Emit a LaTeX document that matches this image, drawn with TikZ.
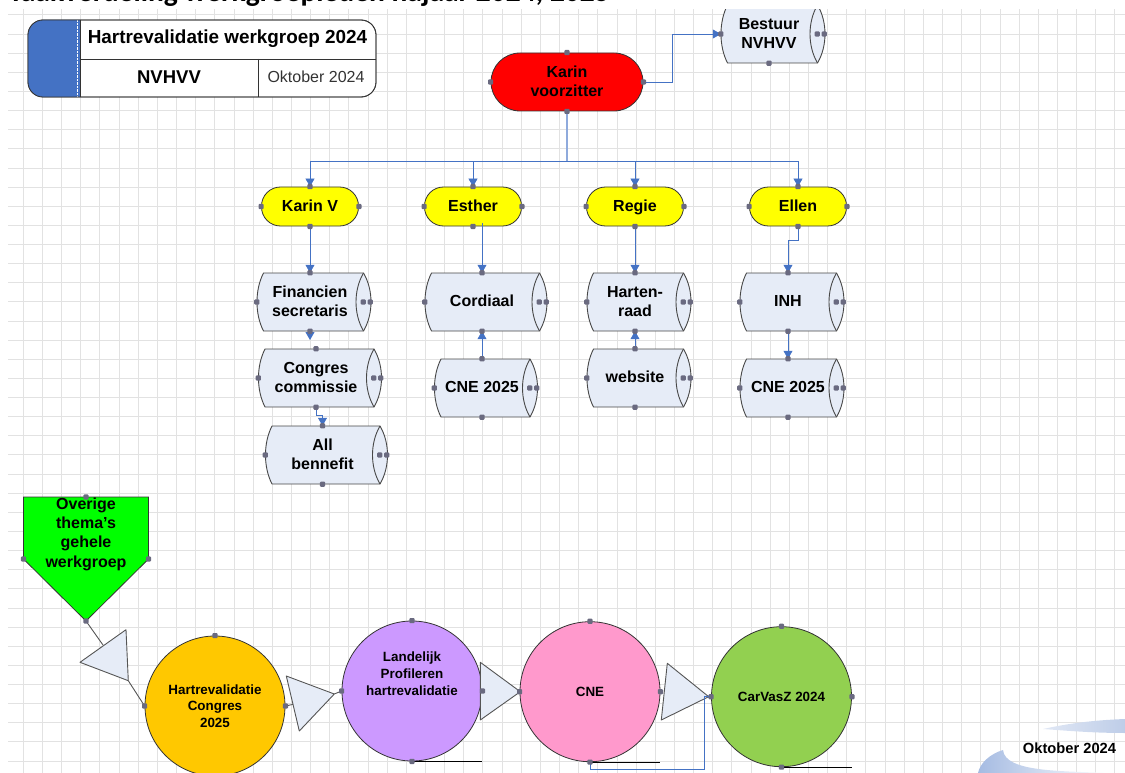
\documentclass[tikz,border=0pt]{standalone}
\usepackage{fontspec}
\setmainfont{Liberation Sans}
\newfontfamily\titlefont{Carlito}
\usetikzlibrary{arrows.meta,calc}
\definecolor{gridgray}{RGB}{226,226,226}
\definecolor{cylfill}{RGB}{230,236,247}
\definecolor{linkblue}{RGB}{68,114,196}
\definecolor{trunkblue}{RGB}{143,170,220}
\definecolor{ptgray}{RGB}{106,106,128}
\definecolor{edgegray}{RGB}{85,85,85}
\definecolor{pillyellow}{RGB}{255,255,0}
\definecolor{discorange}{RGB}{255,200,0}
\definecolor{discpurple}{RGB}{204,153,255}
\definecolor{discpink}{RGB}{255,153,204}
\definecolor{discgreen}{RGB}{146,208,80}
\tikzset{
  pill/.style={draw=black!80,line width=.8pt,font=\bfseries\fontsize{16}{19}\selectfont,align=center,inner sep=0pt},
  redpill/.style={pill,fill=red,rounded corners=29,minimum width=152,minimum height=58,text depth=2},
  yellowpill/.style={pill,fill=pillyellow,rounded corners=19,minimum width=97,minimum height=39,text height=13,text depth=3},
  cylbody/.style={draw=black!72,line width=.9pt,fill=cylfill,line join=round},
  cyl/.style={inner sep=0pt,text depth=2,font=\bfseries\fontsize{16}{19}\selectfont,align=center,minimum height=58},
  disc/.style={circle,draw=black!80,line width=.8pt,minimum size=140,inner sep=0pt,
    font=\bfseries\fontsize{13.4}{16.5}\selectfont,align=center},
  tri/.style={draw=edgegray,line width=.9pt,fill=cylfill,line join=round},
  link/.style={draw=linkblue,line width=.8pt},
  linka/.style={link,-{Triangle[length=8,width=9]}},
  lead/.style={draw=edgegray,line width=.9pt},
  cpt/.style={fill=ptgray,rounded corners=1,minimum size=5.2,inner sep=0pt},
}
\newcommand{\cpts}[1]{\foreach \a in {north,south,east,west} \node[cpt] at (#1.\a) {};}
% name, x of text, y, full width, text; the east anchor sits on the lens
\newcommand{\cylnode}[5]{%
  \pgfmathsetmacro\cylL{#2-#4/2+4}\pgfmathsetmacro\cylR{#2+#4/2+4}%
  \draw[cylbody] (\cylL+6.5,#3-29) -- (\cylR-7.5,#3-29)
    .. controls (\cylR+2.5,#3-12) and (\cylR+2.5,#3+12) .. (\cylR-7.5,#3+29)
    -- (\cylL+6.5,#3+29)
    .. controls (\cylL-2.2,#3+12) and (\cylL-2.2,#3-12) .. cycle;
  \draw[cylbody,fill=none] (\cylR-7.5,#3-29) .. controls (\cylR-17.5,#3-12) and (\cylR-17.5,#3+12) .. (\cylR-7.5,#3+29);
  \node[cyl,minimum width=#4-8] (#1) at (#2,#3) {#5};
}
\begin{document}
\begin{tikzpicture}[x=1pt,y=-1pt]
\useasboundingbox (0,0) rectangle (1125,773);
% grid
\foreach \i in {1,...,58} \draw[gridgray,line width=.8pt] (4.1+19.15*\i,9) -- (4.1+19.15*\i,773);
\foreach \j in {0,...,39} \draw[gridgray,line width=.8pt] (8,14.9+19.13*\j) -- (1125,14.9+19.13*\j);
% swoosh, bottom right
\shade[left color={rgb,255:red,225;green,232;blue,245},right color={rgb,255:red,190;green,205;blue,232}] (1043,729) .. controls (1075,722) and (1100,720) .. (1125,719) -- (1125,733) .. controls (1095,733) and (1070,731) .. cycle;
\shade[left color={rgb,255:red,165;green,187;blue,226},right color=white] (1003,750) .. controls (990,754) and (980,763) .. (978,773) -- (1110,773) .. controls (1060,771) and (1005,772) .. cycle;
\node[font=\bfseries\fontsize{14.7}{17}\selectfont] (stamp) at (1069.5,748) {Oktober 2024};
% title block
\draw[draw=black!80,line width=.8pt,fill=white,rounded corners=15] (28,20) rectangle (376,97);
\fill[linkblue] (80,20) [rounded corners=15] -- (28,20) -- (28,97) [sharp corners] -- (80,97) -- cycle;
\draw[white,densely dotted] (77,20) -- (77,97);
\draw[black!80,line width=.8pt] (80,20) -- (80,97) (80,59) -- (376,59) (258,59) -- (258,97);
\draw[black!80,line width=.8pt,rounded corners=15] (28,20) rectangle (376,97);
\node[font=\bfseries\fontsize{18.9}{21}\selectfont] (head) at (227.5,39) {Hartrevalidatie werkgroep 2024};
\node[font=\bfseries\fontsize{18.5}{21}\selectfont] (org) at (169,77) {NVHVV};
\node[font=\fontsize{16}{19}\selectfont,text=black!80] (date) at (316,77) {Oktober 2024};
% top of the chart
\node[redpill] (chair) at (567,82) {Karin\\voorzitter};
\cylnode{board}{769}{34}{104}{Bestuur\\NVHVV}
\foreach \n/\x/\t in {kv/310/Karin V,es/473/Esther,re/635/Regie,el/798/Ellen}
  \node[yellowpill] (\n) at (\x,206.5) {\t};
% work groups
\cylnode{fin}{310}{302}{114}{Financien\\secretaris}
\cylnode{con}{316}{378}{123}{Congres\\commissie}
\cylnode{all}{322.5}{455}{122}{All\\bennefit}
\cylnode{cor}{482}{302}{122}{Cordiaal}
\cylnode{cne}{482}{388}{103}{CNE 2025}
\cylnode{har}{635}{302}{104}{Harten-\\raad}
\cylnode{web}{635}{378}{104}{website}
\cylnode{inh}{788}{302}{104}{INH}
\cylnode{cnf}{788}{388}{104}{CNE 2025}
% links
\coordinate (bus) at (567,161);
\coordinate (congtop) at (310,340);
\draw[link,draw=trunkblue,line width=1.2pt] (chair.south) -- (bus);
\foreach \n in {kv,es,re,el} \draw[linka] (bus) -| (\n.north);
\draw[linka] (chair.east) -- (672,82) |- (board.west);
\draw[linka] (kv.south) -- (fin.north);
\draw[linka] (fin.south) -- (congtop);
\draw[linka] (con.south) -- ++(0,8) -| (all.north);
\draw[linka] ([yshift=3pt]es.south -| cor.north) -- (cor.north);
\draw[linka] (cne.north) -- (cor.south);
\draw[linka] (re.south) -- (har.north);
\draw[linka] (web.north) -- (har.south);
\draw[linka] (el.south) -- ++(0,14) -| (inh.north);
\draw[linka] (inh.south) -- (cnf.north);
% themes
\coordinate (gnw) at (23.5,497);
\coordinate (gne) at (148.5,497);
\coordinate (ge) at (148.5,559);
\coordinate (gs) at (86,621);
\coordinate (gw) at (23.5,559);
\coordinate (gn) at (86,497);
\draw[draw=black!80,line width=.8pt,fill=green] (gnw) -- (gne) -- (ge) -- (gs) -- (gw) -- cycle;
\node[font=\bfseries\fontsize{16}{19.3}\selectfont,align=center,anchor=north] (themes) at (86,494) {Overige\\thema's\\gehele\\werkgroep};
% year line
\node[disc,fill=discorange] (hc) at (215,706) {Hartrevalidatie\\Congres\\2025};
\node[disc,fill=discpurple] (lp) at (412,691) {};
\node[font=\bfseries\fontsize{13.4}{16.8}\selectfont,align=center] (lptext) at (412,674) {Landelijk\\Profileren\\hartrevalidatie};
\node[disc,fill=discpink] (cn) at (590,691.7) {CNE};
\node[disc,fill=discgreen] (cv) at (781.5,696.7) {CarVasZ 2024};
\coordinate (t1a) at (80,662.3);
\coordinate (t1b) at (126,629.7);
\coordinate (t1c) at (128.3,680.7);
\coordinate (t2a) at (286.3,676);
\coordinate (t2b) at (334.3,694);
\coordinate (t2c) at (299.3,731);
\coordinate (t3a) at (480.3,662.3);
\coordinate (t3b) at (520.3,691.7);
\coordinate (t3c) at (480.3,720);
\coordinate (t4a) at (667.3,663.3);
\coordinate (t4b) at (708.7,696.7);
\coordinate (t4c) at (661.3,720);
\draw[lead] (gs) -- (103,645);
\draw[lead] (t1c) -- (hc.west);
\draw[lead] (hc.east) -- (293,704.4);
\draw[lead] (t2b) -- (lp.west);
\draw[tri] (t1a) -- (t1b) -- (t1c) -- cycle;
\draw[tri] (t2a) -- (t2b) -- (t2c) -- cycle;
\draw[tri] (t3a) -- (t3b) -- (t3c) -- cycle;
\draw[tri] (t4a) -- (t4b) -- (t4c) -- cycle;
\draw[black,line width=.8pt] (lp.south) -- ++(70,0);
\draw[black,line width=.8pt] (cn.south) -- ++(70,0);
\draw[black,line width=.8pt] (cv.south) -- ++(70,0);
\draw[link,-{Latex[length=3,width=3]}] (cn.south) -- ++(0,7) -| (704.5,696.7) -- (cv.west);
% connection points
\foreach \n in {chair,kv,es,re,el,fin,con,all,cor,cne,har,web,inh,cnf,board,hc,lp,cn,cv} {\cpts{\n}}
\foreach \n in {fin,con,all,cor,cne,har,web,inh,cnf,board} \node[cpt] at ($(\n.east)+(7,0)$) {};
\foreach \n in {gn,ge,gs,gw} \node[cpt] at (\n) {};
% title, cut off by the top of the page
\fill[white] (0,0) rectangle (1125,9);
\node[font=\titlefont\bfseries\fontsize{29.5}{32}\selectfont,anchor=base west] (title) at (5,1.5) {Taakverdeling werkgroepleden najaar 2024, 2025};
\end{tikzpicture}
\end{document}
